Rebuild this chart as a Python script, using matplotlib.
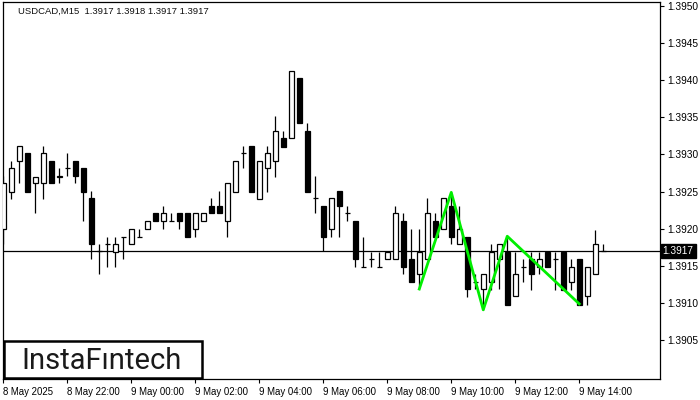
import matplotlib

matplotlib.use("Agg")
import matplotlib.pyplot as plt
import matplotlib.transforms as mtransforms
from matplotlib.patches import Rectangle

SYMBOL_HEADER = "USDCAD,M15  1.3917 1.3918 1.3917 1.3917"
LAST_PRICE = 1.3917

# 15-minute candles, 8 May 20:00 -> 9 May 14:45
OPEN = [1.39200, 1.39249, 1.39291, 1.39302, 1.39262, 1.39262, 1.39291, 1.39270, 1.39282, 1.39291,
        1.39282, 1.39241, 1.39170, 1.39179, 1.39169, 1.39189, 1.39179, 1.39189, 1.39200, 1.39221,
        1.39210, 1.39210, 1.39221, 1.39221, 1.39200, 1.39210, 1.39231, 1.39231, 1.39210, 1.39249,
        1.39302, 1.39311, 1.39240, 1.39282, 1.39291, 1.39322, 1.39322, 1.39403, 1.39332, 1.39241,
        1.39231, 1.39200, 1.39251, 1.39221, 1.39210, 1.39148, 1.39159, 1.39148, 1.39159, 1.39159,
        1.39210, 1.39159, 1.39139, 1.39159, 1.39210, 1.39200, 1.39231, 1.39179, 1.39189, 1.39128,
        1.39119, 1.39129, 1.39159, 1.39169, 1.39109, 1.39149, 1.39159, 1.39149, 1.39169, 1.39159,
        1.39169, 1.39129, 1.39159, 1.39109, 1.39139, 1.39170]
HIGH = [1.39271, 1.39291, 1.39311, 1.39302, 1.39270, 1.39311, 1.39291, 1.39282, 1.39302, 1.39291,
        1.39282, 1.39251, 1.39179, 1.39189, 1.39189, 1.39189, 1.39200, 1.39200, 1.39210, 1.39221,
        1.39231, 1.39221, 1.39221, 1.39221, 1.39221, 1.39221, 1.39241, 1.39251, 1.39262, 1.39291,
        1.39311, 1.39311, 1.39291, 1.39311, 1.39352, 1.39332, 1.39412, 1.39403, 1.39342, 1.39271,
        1.39231, 1.39241, 1.39251, 1.39231, 1.39210, 1.39189, 1.39169, 1.39169, 1.39169, 1.39231,
        1.39221, 1.39200, 1.39200, 1.39241, 1.39221, 1.39241, 1.39249, 1.39231, 1.39189, 1.39139,
        1.39139, 1.39179, 1.39179, 1.39190, 1.39169, 1.39159, 1.39169, 1.39169, 1.39169, 1.39169,
        1.39169, 1.39159, 1.39159, 1.39149, 1.39199, 1.39180]
LOW = [1.39179, 1.39240, 1.39262, 1.39249, 1.39221, 1.39240, 1.39262, 1.39262, 1.39271, 1.39262,
       1.39210, 1.39159, 1.39139, 1.39148, 1.39148, 1.39159, 1.39179, 1.39189, 1.39200, 1.39210,
       1.39200, 1.39210, 1.39200, 1.39189, 1.39189, 1.39210, 1.39221, 1.39221, 1.39189, 1.39249,
       1.39282, 1.39249, 1.39240, 1.39249, 1.39270, 1.39310, 1.39322, 1.39342, 1.39249, 1.39221,
       1.39170, 1.39189, 1.39189, 1.39210, 1.39148, 1.39148, 1.39148, 1.39148, 1.39159, 1.39159,
       1.39139, 1.39128, 1.39119, 1.39159, 1.39189, 1.39200, 1.39179, 1.39179, 1.39108, 1.39119,
       1.39091, 1.39118, 1.39119, 1.39098, 1.39109, 1.39129, 1.39118, 1.39139, 1.39149, 1.39118,
       1.39118, 1.39118, 1.39098, 1.39098, 1.39139, 1.39170]
CLOSE = [1.39262, 1.39282, 1.39311, 1.39249, 1.39270, 1.39302, 1.39262, 1.39271, 1.39282, 1.39271,
         1.39249, 1.39179, 1.39170, 1.39179, 1.39179, 1.39189, 1.39200, 1.39189, 1.39210, 1.39210,
         1.39221, 1.39210, 1.39210, 1.39189, 1.39221, 1.39221, 1.39221, 1.39221, 1.39262, 1.39291,
         1.39302, 1.39249, 1.39291, 1.39302, 1.39332, 1.39310, 1.39412, 1.39342, 1.39249, 1.39241,
         1.39189, 1.39241, 1.39231, 1.39221, 1.39159, 1.39148, 1.39159, 1.39148, 1.39169, 1.39221,
         1.39148, 1.39128, 1.39169, 1.39221, 1.39189, 1.39241, 1.39189, 1.39200, 1.39119, 1.39128,
         1.39139, 1.39169, 1.39179, 1.39098, 1.39139, 1.39149, 1.39139, 1.39159, 1.39149, 1.39159,
         1.39118, 1.39149, 1.39098, 1.39149, 1.39179, 1.39170]

TIME_LABELS = ["8 May 2025", "8 May 22:00", "9 May 00:00", "9 May 02:00", "9 May 04:00",
               "9 May 06:00", "9 May 08:00", "9 May 10:00", "9 May 12:00", "9 May 14:00"]
PRICE_TICKS = [1.3905, 1.3910, 1.3915, 1.3920, 1.3925, 1.3930, 1.3935, 1.3940, 1.3945, 1.3950]

# detected pattern (candle index, price)
PATTERN_IDX = [52, 56, 60, 63, 72]
PATTERN_PRICE = [1.39119, 1.39249, 1.39091, 1.39190, 1.39099]

UI_FONT = ["Liberation Sans", "DejaVu Sans"]


def main() -> None:
    plt.rcParams["font.family"] = UI_FONT
    fig = plt.figure(figsize=(7, 4), dpi=100)
    ax = fig.add_axes([3 / 700, 21 / 400, 657 / 700, 377 / 400])

    body_w = 0.6
    for i, (o, h, l, c) in enumerate(zip(OPEN, HIGH, LOW, CLOSE)):
        ax.vlines(i, l, h, color="black", linewidth=0.9, zorder=2)
        if abs(c - o) < 1e-6:
            ax.hlines(o, i - body_w / 2, i + body_w / 2, color="black", linewidth=0.9, zorder=3)
        else:
            face = "white" if c > o else "black"
            ax.bar(i, abs(c - o), bottom=min(o, c), width=body_w, facecolor=face,
                   edgecolor="black", linewidth=0.9, zorder=3)

    ax.axhline(LAST_PRICE, color="black", linewidth=0.9, zorder=1)
    ax.plot(PATTERN_IDX, PATTERN_PRICE, color="#00ee00", linewidth=2, zorder=4)

    ax.set_xlim(-0.05, 82.1)
    ax.set_ylim(1.38998, 1.39505)

    ax.yaxis.tick_right()
    ax.set_yticks(PRICE_TICKS)
    ax.set_yticklabels([f"{p:.4f}" for p in PRICE_TICKS])
    ax.set_xticks(range(0, len(OPEN), 8))
    ax.set_xticklabels(TIME_LABELS, ha="left")
    ax.tick_params(axis="both", direction="out", length=3, width=0.8, colors="black", pad=2)
    ax.tick_params(axis="y", labelsize=7.3)
    ax.tick_params(axis="x", labelsize=6.9, pad=3)
    for spine in ax.spines.values():
        spine.set_linewidth(0.9)

    trans = mtransforms.blended_transform_factory(ax.transAxes, ax.transData)
    ax.text(1.004, LAST_PRICE, f"{LAST_PRICE:.4f}", transform=trans, ha="left", va="center",
            fontsize=7.3, color="white", clip_on=False,
            bbox=dict(boxstyle="square,pad=0.2", facecolor="black", edgecolor="black"))

    fig.text(18 / 700, 1 - 11 / 400, SYMBOL_HEADER, fontsize=6.8, color="#101010", va="center")

    fig.patches.append(Rectangle((3.5 / 700, 22.5 / 400), 198 / 700, 37 / 400, transform=fig.transFigure,
                                 facecolor="white", edgecolor="black", linewidth=1.8, zorder=5))
    fig.text(102 / 700, 1 - 369 / 400, "InstaF\u0131ntech", fontsize=21, family="Roboto",
             fontweight="normal", color="#1a1a1a", ha="center", va="baseline", zorder=6)

    fig.savefig("out.png", dpi=100)


if __name__ == "__main__":
    main()
